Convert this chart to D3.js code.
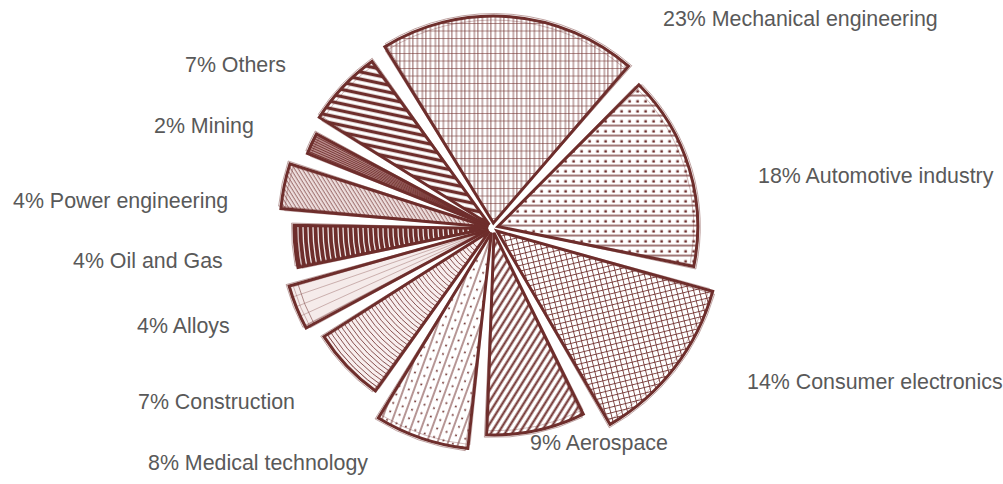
<!DOCTYPE html>
<html><head><meta charset="utf-8">
<script src="https://cdn.jsdelivr.net/npm/d3@7/dist/d3.min.js"></script>
<style>
html,body{margin:0;padding:0;background:#fff;}
svg{display:block;}
</style></head>
<body>
<svg id="chart" width="1003" height="484"></svg>
<script>
// ---- data ----
const categories = ["Mechanical engineering","Automotive industry","Consumer electronics","Aerospace","Medical technology","Construction","Alloys","Oil and Gas","Power engineering","Mining","Others"];
const shares = [23,18,14,9,8,7,4,4,4,2,7];

// ---- presentation (not data) ----
const sliceRadius = [207,200,224,202,217,196,207,194,208,195,201];
const textures = ["grid","dotrows","finegrid","diag","diagdots","arcs","light","darkarcs","hatch","radial","stripes"];
const labelLayout = [[663,26],[758,183],[747,389],[530,450],[148,470],[138,409],[137,333],[73,268],[13,208],[154,133],[185,72]];

const C = "#6e2e2c";
const cx = 493, cy = 228;
const svg = d3.select("#chart");
const defs = svg.append("defs");

function pat(id, w, h, rot, draw){
  const p = defs.append("pattern").attr("id", id).attr("patternUnits","userSpaceOnUse")
    .attr("width", w).attr("height", h).attr("patternTransform", `rotate(${rot})`);
  draw(p);
}
pat("p-grid", 13, 15, 0, p=>{
  p.append("path").attr("d","M2,0V15M7,0V15M10.5,0V15").attr("stroke",C).attr("stroke-width",0.9).attr("opacity",0.85);
  p.append("path").attr("d","M0,3H13M0,10.5H13").attr("stroke",C).attr("stroke-width",0.8).attr("opacity",0.7);
});
pat("p-dotrows", 8, 10, 0, p=>{
  p.append("path").attr("d","M0,9H8").attr("stroke",C).attr("stroke-width",1.3);
  p.append("rect").attr("x",2.5).attr("y",3.6).attr("width",2.6).attr("height",2.4).attr("fill",C);
});
pat("p-finegrid", 5.5, 5.5, -14, p=>{
  p.append("path").attr("d","M0.5,0V5.5M0,0.5H5.5").attr("stroke",C).attr("stroke-width",0.85);
});
pat("p-diag", 6, 6, 32, p=>{
  p.append("path").attr("d","M1.5,0V6").attr("stroke",C).attr("stroke-width",2.1);
});
pat("p-diagdots", 10, 9, 20, p=>{
  p.append("path").attr("d","M1,0V9").attr("stroke",C).attr("stroke-width",1);
  p.append("circle").attr("cx",6).attr("cy",4.5).attr("r",1).attr("fill",C);
});
pat("p-hatch", 3.2, 3.2, -32, p=>{
  p.append("path").attr("d","M1,0V3.2").attr("stroke",C).attr("stroke-width",0.75).attr("opacity",0.85);
});
pat("p-stripes", 10, 7, 12, p=>{
  p.append("path").attr("d","M0,3.5H10").attr("stroke",C).attr("stroke-width",3.4);
});

const pie = d3.pie().value(d=>d).sort(null)
  .startAngle(-0.588).endAngle(-0.588 + 2*Math.PI).padAngle(0.072);
const arcs = pie(shares);
const explode = 5;

arcs.forEach((d,i)=>{
  const r = sliceRadius[i];
  const arcGen = d3.arc().innerRadius(0).outerRadius(r);
  const mid = (d.startAngle + d.endAngle)/2;
  const g = svg.append("g")
    .attr("transform", `translate(${cx + explode*Math.sin(mid)},${cy - explode*Math.cos(mid)})`);
  const path = arcGen(d);
  defs.append("clipPath").attr("id","clip"+i).append("path").attr("d", path);
  const body = g.append("g").attr("clip-path", `url(#clip${i})`);
  const t = textures[i];
  const bg = {arcs:"#f8eeee", light:"#f5ebea", darkarcs:C, hatch:"#eedfde", radial:"#b98e8c"}[t] || "#fff";
  body.append("path").attr("d", path).attr("fill", bg);
  const patMap = {grid:"p-grid",dotrows:"p-dotrows",finegrid:"p-finegrid",diag:"p-diag",diagdots:"p-diagdots",hatch:"p-hatch",stripes:"p-stripes"};
  if (patMap[t]) {
    body.append("rect").attr("x",-300).attr("y",-300).attr("width",600).attr("height",600)
      .attr("fill", `url(#${patMap[t]})`);
  }
  if (t === "arcs" || t === "darkarcs") {
    const step = t === "arcs" ? 4 : 5;
    const radii = d3.range(20, r, step);
    body.selectAll("circle.ring").data(radii).join("circle")
      .attr("r", v=>v).attr("fill","none")
      .attr("stroke", t === "arcs" ? C : "#fff")
      .attr("stroke-width", t === "arcs" ? 0.9 : 1.3)
      .attr("opacity", 0.9);
  }
  if (t === "radial" || t === "light") {
    const step = t === "radial" ? 0.012 : 0.05;
    const angs = d3.range(d.startAngle, d.endAngle, step);
    body.selectAll("line.ray").data(angs).join("line")
      .attr("x1",0).attr("y1",0)
      .attr("x2", a=>r*Math.sin(a)).attr("y2", a=>-r*Math.cos(a))
      .attr("stroke", t === "radial" ? C : "#a9807e")
      .attr("stroke-width", t === "radial" ? 1 : 0.8)
      .attr("opacity", t === "radial" ? 0.85 : 0.7);
    if (t === "light") {
      body.append("path").attr("d", d3.arc().innerRadius(0).outerRadius(r-9)(d))
        .attr("fill","none").attr("stroke","#9a6f6d").attr("stroke-width",0.8);
    }
  }
  // sketchy outlines
  g.append("path").attr("d", path).attr("fill","none").attr("stroke",C)
    .attr("stroke-width",3).attr("stroke-linejoin","miter");
  g.append("path").attr("d", d3.arc().innerRadius(0).outerRadius(r+2.5)(d))
    .attr("fill","none").attr("stroke",C).attr("stroke-width",0.8).attr("opacity",0.55)
    .attr("transform","rotate(0.6)");
  g.append("path").attr("d", d3.arc().innerRadius(0).outerRadius(r-4)(d))
    .attr("fill","none").attr("stroke",C).attr("stroke-width",0.7).attr("opacity",0.45)
    .attr("transform","rotate(-0.5)");
});

// labels
svg.append("g").selectAll("text").data(categories).join("text")
  .attr("x", (c,i)=>labelLayout[i][0])
  .attr("y", (c,i)=>labelLayout[i][1])
  .attr("font-family","'Liberation Sans', Arial, sans-serif")
  .attr("font-size", 21.4)
  .attr("fill","#595959")
  .text((c,i)=>`${shares[i]}% ${c}`);
</script>
</body></html>
